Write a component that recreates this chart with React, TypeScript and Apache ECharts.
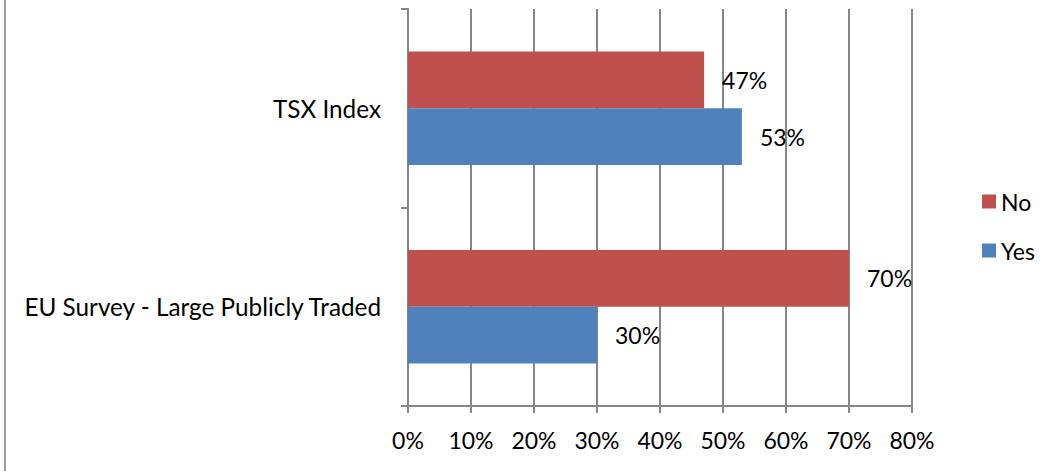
import React, { useEffect, useRef } from "react";
import * as echarts from "echarts";

const categories = ["EU Survey - Large Publicly Traded", "TSX Index"];
const yesValues = [30, 53];
const noValues = [70, 47];
const xTicks = [0, 10, 20, 30, 40, 50, 60, 70, 80];

const FONT = "Lato, 'Noto Sans', sans-serif";
const FS = 23;

export default function App() {
  const ref = useRef<HTMLDivElement>(null);
  useEffect(() => {
    const chart = echarts.init(ref.current!, null, { renderer: "svg" });
    chart.setOption({
      animation: false,
      backgroundColor: "#ffffff",
      textStyle: { fontFamily: FONT },
      grid: { left: 408, right: 138, top: 9, bottom: 65, containLabel: false },
      legend: {
        orient: "vertical",
        left: 977,
        top: 185,
        itemWidth: 14,
        itemHeight: 14,
        itemGap: 26,
        icon: "rect",
        data: ["No", "Yes"],
        textStyle: { fontSize: FS, color: "#000", fontFamily: FONT },
      },
      xAxis: {
        type: "value",
        min: xTicks[0],
        max: xTicks[xTicks.length - 1],
        interval: 10,
        axisLine: { show: true, lineStyle: { color: "#868686", width: 2 } },
        axisTick: { show: true, length: 7, lineStyle: { color: "#868686", width: 2 } },
        splitLine: { show: true, lineStyle: { color: "#868686", width: 2 } },
        axisLabel: { formatter: "{value}%", fontSize: FS, color: "#000", margin: 22, fontFamily: FONT },
      },
      yAxis: {
        type: "category",
        data: categories,
        axisLine: { show: true, lineStyle: { color: "#868686", width: 2 } },
        axisTick: { show: true, length: 7, lineStyle: { color: "#868686", width: 2 } },
        axisLabel: { fontSize: 24.3, color: "#000", margin: 27, fontFamily: FONT },
      },
      series: [
        {
          name: "No",
          type: "bar",
          data: noValues,
          itemStyle: { color: "#C0504D" },
          barCategoryGap: "42.9%",
          barGap: "0%",
          label: { show: true, position: "right", distance: 18, formatter: "{c}%", fontSize: FS, color: "#000", fontFamily: FONT },
        },
        {
          name: "Yes",
          type: "bar",
          data: yesValues,
          itemStyle: { color: "#4F81BD" },
          barCategoryGap: "42.9%",
          barGap: "0%",
          label: { show: true, position: "right", distance: 18, formatter: "{c}%", fontSize: FS, color: "#000", fontFamily: FONT },
        },
      ],
      graphic: [
        { type: "line", shape: { x1: 5, y1: 0, x2: 5, y2: 471 }, style: { stroke: "#9a9a9a", lineWidth: 2 } },
      ],
    });
    return () => chart.dispose();
  }, []);
  return <div ref={ref} style={{ position: "fixed", left: 0, top: 0, width: 1050, height: 471 }} />;
}
